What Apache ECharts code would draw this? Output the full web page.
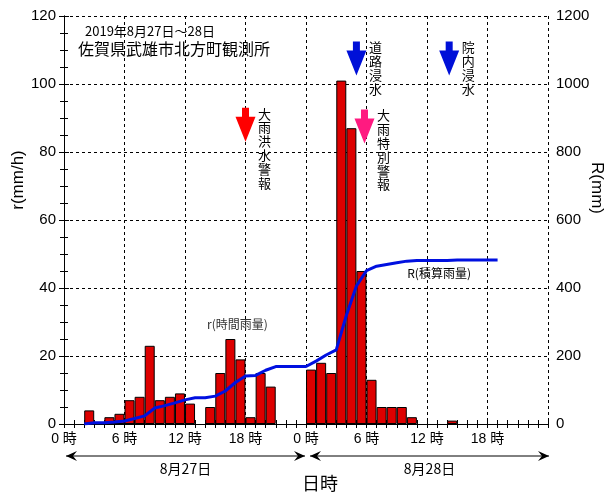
<!DOCTYPE html>
<html>
<head>
<meta charset="utf-8">
<script src="https://cdn.jsdelivr.net/npm/echarts@6/dist/echarts.min.js"></script>
<style>
  html, body { margin: 0; padding: 0; background: #fff; }
  #chart { width: 611px; height: 494px; }
</style>
</head>
<body>
<div id="chart"></div>
<script>
// hourly rainfall r (mm/h), hour 0..23 of each day
const rain27 = [0, 0, 4, 0, 2, 3, 7, 8, 23, 7, 8, 9, 6, 0, 5, 15, 25, 19, 2, 15, 11, 0, 0, 0];
const rain28 = [16, 18, 15, 101, 87, 45, 13, 5, 5, 5, 2, 0, 0, 0, 1, 0, 0, 0, 0, 0, 0, 0, 0, 0];
// accumulated rainfall R (mm), at hour end (hours counted from 27th 0時)
const cumHour = [2, 3, 4, 5, 6, 7, 8, 9, 10, 11, 12, 13, 14, 15, 16, 17, 18, 19, 20, 21, 22, 23, 24,
  25, 26, 27, 28, 29, 30, 31, 32, 33, 34, 35, 36, 37, 38, 39, 43];
const cumMm = [0, 4, 4, 6, 9, 16, 24, 47, 54, 62, 71, 77, 77, 82, 97, 122, 141, 143, 158, 169, 169, 169, 169,
  185, 203, 218, 319, 406, 451, 464, 469, 474, 479, 481, 481, 481, 481, 482, 482];
// warnings: hour, top of arrow on r axis, colour, label
const notes = [
  { hour: 18, r: 93, color: '#ff0000', text: '大雨洪水警報' },
  { hour: 29, r: 112.5, color: '#0010d8', text: '道路浸水' },
  { hour: 29.8, r: 92.5, color: '#ff1a80', text: '大雨特別警報' },
  { hour: 38.2, r: 112.5, color: '#0010d8', text: '院内浸水' }
];
const dayLabels = ['8月27日', '8月28日'];

const numFont = "'Liberation Sans', 'Noto Sans CJK JP', sans-serif";
const jpFont = "'Noto Sans CJK JP', sans-serif";

const rainData = rain27.concat(rain28).map((v, i) => [i + 0.5, v === 0 ? '-' : v]);
const cumData = cumHour.map((h, i) => [h, cumMm[i]]);

const chart = echarts.init(document.getElementById('chart'));

const dashed = { color: '#000', width: 1, type: [3, 3] };

chart.setOption({
  animation: false,
  grid: { left: 64, right: 63, top: 16, bottom: 70 },
  xAxis: [
    {
      type: 'value', min: 0, max: 48, interval: 6,
      axisLine: { lineStyle: { color: '#000' } },
      axisTick: { inside: true, length: 5, lineStyle: { color: '#000' } },
      minorTick: { show: true, splitNumber: 6, length: 4, lineStyle: { color: '#000' } },
      splitLine: { show: true, lineStyle: dashed },
      axisLabel: {
        color: '#000', fontFamily: numFont, fontSize: 14, margin: 8,
        formatter: v => v >= 48 ? '' : (v % 24) + ' 時'
      }
    },
    {
      type: 'value', min: 0, max: 48, interval: 6, position: 'top',
      axisLine: { show: true, lineStyle: { color: '#000' } },
      axisTick: { show: true, inside: true, length: 4, lineStyle: { color: '#000' } },
      minorTick: { show: true, splitNumber: 6, length: 4, lineStyle: { color: '#000' } },
      splitLine: { show: false },
      axisLabel: { show: false }
    }
  ],
  yAxis: [
    {
      type: 'value', min: 0, max: 120, interval: 20,
      axisLine: { show: true, lineStyle: { color: '#000' } },
      axisTick: { show: true, inside: true, length: 5, lineStyle: { color: '#000' } },
      minorTick: { show: true, splitNumber: 4, length: 4, lineStyle: { color: '#000' } },
      splitLine: { show: true, lineStyle: dashed },
      axisLabel: { color: '#000', fontFamily: numFont, fontSize: 15, margin: 8 }
    },
    {
      type: 'value', min: 0, max: 1200, interval: 200, position: 'right',
      axisLine: { show: true, lineStyle: { color: '#000' } },
      axisTick: { show: true, inside: true, length: 5, lineStyle: { color: '#000' } },
      minorTick: { show: true, splitNumber: 4, length: 4, lineStyle: { color: '#000' } },
      splitLine: { show: false },
      axisLabel: { color: '#000', fontFamily: numFont, fontSize: 15, margin: 8, formatter: v => String(v) }
    }
  ],
  series: [
    {
      name: 'r', type: 'bar', xAxisIndex: 0, yAxisIndex: 0,
      data: rainData, barWidth: 10,
      itemStyle: { color: '#dd0000', borderColor: '#000', borderWidth: 1 }
    },
    {
      name: 'R', type: 'line', xAxisIndex: 0, yAxisIndex: 1,
      data: cumData, symbol: 'none',
      lineStyle: { color: '#0010e0', width: 3 }
    }
  ]
});

// annotations placed through the axes
const px = (h, r) => chart.convertToPixel({ xAxisIndex: 0, yAxisIndex: 0 }, [h, r]);
const g = [];

g.push({ type: 'text', left: 85, top: 25, style: { text: '2019年8月27日～28日', font: '13px ' + jpFont, fill: '#000' } });
g.push({ type: 'text', left: 78, top: 41, style: { text: '佐賀県武雄市北方町観測所', font: '16px ' + jpFont, fill: '#000' } });

notes.forEach(n => {
  const p = px(n.hour, n.r);
  g.push({
    type: 'polygon', x: p[0], y: p[1],
    shape: { points: [[-3.5, 0], [3.5, 0], [3.5, 9], [10, 9], [0, 34], [-10, 9], [-3.5, 9]] },
    style: { fill: n.color }, z: 10
  });
  g.push({
    type: 'text', x: p[0] + 19, y: p[1] - 1,
    style: {
      text: n.text.split('').join('\n'), font: '13px ' + jpFont, lineHeight: 13.8,
      fill: '#000', align: 'center', verticalAlign: 'top'
    }, z: 10
  });
});

const lblR = px(17.2, 29.4);
g.push({ type: 'text', x: lblR[0], y: lblR[1], style: { text: 'r(時間雨量)', font: '12px ' + jpFont, fill: '#333', align: 'center', verticalAlign: 'middle' }, z: 10 });
const lblC = px(37.2, 44.4);
g.push({ type: 'text', x: lblC[0], y: lblC[1], style: { text: 'R(積算雨量)', font: '12px ' + jpFont, fill: '#000', align: 'center', verticalAlign: 'middle' }, z: 10 });

// axis names
g.push({ type: 'text', x: 18, y: 180, rotation: Math.PI / 2, style: { text: 'r(mm/h)', font: '17px ' + numFont, fill: '#000', align: 'center', verticalAlign: 'middle' } });
g.push({ type: 'text', x: 597, y: 188, rotation: -Math.PI / 2, style: { text: 'R(mm)', font: '17px ' + numFont, fill: '#000', align: 'center', verticalAlign: 'middle' } });
g.push({ type: 'text', x: 320, y: 483, style: { text: '日時', font: '18px ' + jpFont, fill: '#000', align: 'center', verticalAlign: 'middle' } });

// day range arrows
const ay = 456;
[[0, 24], [24, 48]].forEach((span, i) => {
  const x1 = px(span[0], 0)[0] + (i === 0 ? 2 : 4);
  const x2 = px(span[1], 0)[0] - (i === 0 ? 1 : -1);
  g.push({ type: 'line', shape: { x1: x1, y1: ay, x2: x2, y2: ay }, style: { stroke: '#000', lineWidth: 1 } });
  g.push({ type: 'polygon', shape: { points: [[x1, ay], [x1 + 11, ay - 5], [x1 + 7, ay], [x1 + 11, ay + 5]] }, style: { fill: '#000' } });
  g.push({ type: 'polygon', shape: { points: [[x2, ay], [x2 - 11, ay - 5], [x2 - 7, ay], [x2 - 11, ay + 5]] }, style: { fill: '#000' } });
  g.push({ type: 'text', x: (x1 + x2) / 2, y: ay + 13, style: { text: dayLabels[i], font: '14px ' + jpFont, fill: '#000', align: 'center', verticalAlign: 'middle' } });
});

chart.setOption({ graphic: g });
</script>
</body>
</html>
